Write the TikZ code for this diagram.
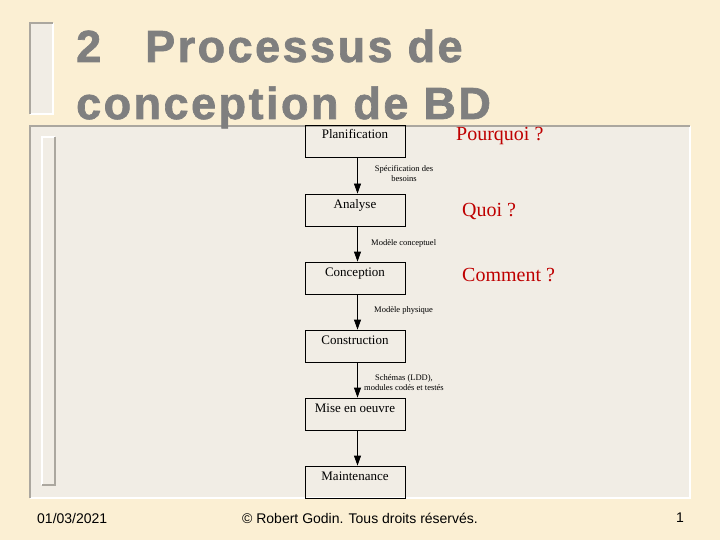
\documentclass[tikz,border=0pt]{standalone}
\usepackage{fontspec}
\setmainfont{Liberation Serif}
\newfontfamily\titlefont[LetterSpace=5.5,FakeBold=1.5]{Liberation Sans Bold}
\newfontfamily\footfont{Liberation Sans}
\usetikzlibrary{arrows.meta}
\definecolor{parchment}{HTML}{FBEFD3}
\definecolor{panelfill}{HTML}{F1EDE5}
\definecolor{bevelgray}{HTML}{ABA79F}
\definecolor{titlegray}{HTML}{7F7F7F}
\definecolor{askred}{HTML}{BF0000}
\begin{document}
\begin{tikzpicture}[x=1pt,y=-1pt,
  phase/.style={draw,line width=0.8pt,minimum width=100pt,inner ysep=3pt,
    text height=11pt,text depth=15pt,font=\fontsize{13}{15}\selectfont},
  flow/.style={line width=0.8pt,-{Triangle[length=10pt,width=7pt]}},
  deliv/.style={font=\fontsize{8.5}{10}\selectfont,inner sep=0pt,align=center},
  ask/.style={text=askred,anchor=west,inner sep=0pt,font=\fontsize{20}{24}\selectfont},
  foot/.style={inner sep=0pt,font=\footfont\fontsize{14}{16}\selectfont}]
  \fill[parchment] (0,0) rectangle (720,540);
  \useasboundingbox (0,0) rectangle (720,540);
  % bevelled bars and panel
  \fill[panelfill] (30,23) rectangle (53,114);
  \draw[white,line width=1.5pt] (53,23) -- (53,114) -- (30,114);
  \draw[bevelgray,line width=1.5pt] (30,114) -- (30,23) -- (53,23);
  \fill[panelfill] (30,126) rectangle (690,498);
  \draw[white,line width=1.5pt] (690,126) -- (690,498) -- (30,498);
  \draw[bevelgray,line width=1.5pt] (30,498) -- (30,126) -- (690,126);
  \draw[white,line width=1.5pt] (42,485) -- (42,137) -- (55,137);
  \draw[bevelgray,line width=1.5pt] (55,137) -- (55,485) -- (42,485);
  \node[anchor=base west,inner sep=0pt,text=titlegray,
    font=\titlefont\fontsize{45}{54}\selectfont] (title1) at (76,62)
    {2\hspace{44pt}Processus de};
  \node[anchor=base west,inner sep=0pt,text=titlegray,
    font=\titlefont\fontsize{45}{54}\selectfont] (title2) at (76,119)
    {conception de BD};
  \node[phase] (plan) at (355,141) {Planification};
  \node[phase] (anal) at (355,210) {Analyse};
  \node[phase] (conc) at (355,278) {Conception};
  \node[phase] (cons) at (355,346) {Construction};
  \node[phase] (mise) at (355,414) {Mise en oeuvre};
  \node[phase] (maint) at (355,482) {Maintenance};
  \draw[flow] ([xshift=2.5pt]plan.south) -- ([xshift=2.5pt]anal.north);
  \draw[flow] ([xshift=2.5pt]anal.south) -- ([xshift=2.5pt]conc.north);
  \draw[flow] ([xshift=2.5pt]conc.south) -- ([xshift=2.5pt]cons.north);
  \draw[flow] ([xshift=2.5pt]cons.south) -- ([xshift=2.5pt]mise.north);
  \draw[flow] ([xshift=2.5pt]mise.south) -- ([xshift=2.5pt]maint.north);
  \node[deliv] (spec) at (404,174) {Spécification des\\besoins};
  \node[deliv,anchor=west] (mcon) at (371,243) {Modèle conceptuel};
  \node[deliv,anchor=west] (mphy) at (374,310) {Modèle physique};
  \node[deliv] (ldd) at (404,383) {Schémas (LDD),\\modules codés et testés};
  \node[ask] (why) at (456,136) {Pourquoi ?};
  \node[ask] (what) at (462,211) {Quoi ?};
  \node[ask] (how) at (462,275) {Comment ?};
  \node[foot,anchor=west] (date) at (37,518) {01/03/2021};
  \node[foot] (copy) at (360,518) {© Robert Godin. Tous droits réservés.};
  \node[foot,anchor=east] (page) at (684,518) {1};
\end{tikzpicture}
\end{document}
